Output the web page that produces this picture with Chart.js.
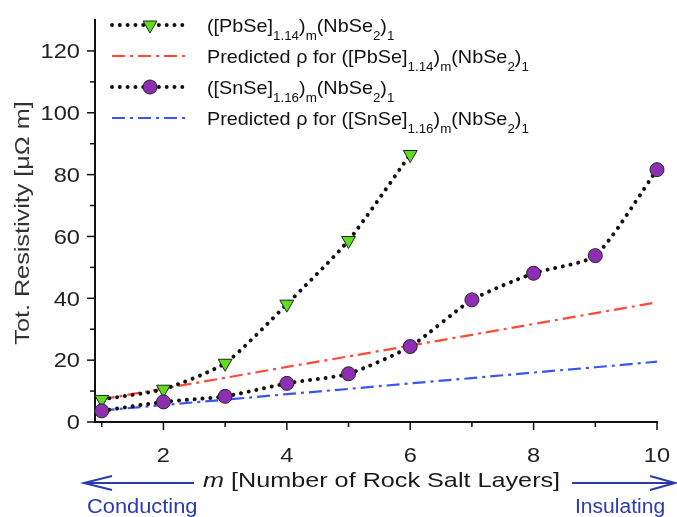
<!DOCTYPE html>
<html>
<head>
<meta charset="utf-8">
<script src="https://cdn.jsdelivr.net/npm/chart.js@4.4.1/dist/chart.umd.min.js"></script>
<style>
  body { margin: 0; background: #fff; }
  #wrap { width: 677px; height: 517px; }
</style>
</head>
<body>
<div id="wrap"><canvas id="chart" width="677" height="517"></canvas></div>
<script>
// data
const mPbSe = [1, 2, 3, 4, 5, 6];
const rhoPbSe = [7.3, 10.6, 19.0, 38.1, 58.7, 86.5];
const mSnSe = [1, 2, 3, 4, 5, 6, 7, 8, 9, 10];
const rhoSnSe = [3.6, 6.5, 8.3, 12.5, 15.6, 24.4, 39.5, 48.1, 53.8, 81.6];
const mPred = [1, 2, 3, 4, 5, 6, 7, 8, 9, 10];
const predPbSe = [7.3, 10.8, 14.3, 17.8, 21.2, 24.7, 28.2, 31.7, 35.2, 38.7];
const predSnSe = [3.7, 5.5, 7.2, 9.0, 10.7, 12.5, 14.2, 16.0, 17.7, 19.5];
const xTickLabels = [2, 4, 6, 8, 10];
const yTickLabels = [0, 20, 40, 60, 80, 100, 120];

const legendRows = [
  [{t: '([PbSe]'}, {t: '1.14', s: 1}, {t: ')'}, {t: 'm', s: 1}, {t: '(NbSe'}, {t: '2', s: 1}, {t: ')'}, {t: '1', s: 1}],
  [{t: 'Predicted \u03c1 for ([PbSe]'}, {t: '1.14', s: 1}, {t: ')'}, {t: 'm', s: 1}, {t: '(NbSe'}, {t: '2', s: 1}, {t: ')'}, {t: '1', s: 1}],
  [{t: '([SnSe]'}, {t: '1.16', s: 1}, {t: ')'}, {t: 'm', s: 1}, {t: '(NbSe'}, {t: '2', s: 1}, {t: ')'}, {t: '1', s: 1}],
  [{t: 'Predicted \u03c1 for ([SnSe]'}, {t: '1.16', s: 1}, {t: ')'}, {t: 'm', s: 1}, {t: '(NbSe'}, {t: '2', s: 1}, {t: ')'}, {t: '1', s: 1}]
];

const FONT = 'Arial, "Liberation Sans", sans-serif';
const GREEN = '#5fdc1c';
const PURPLE = '#8e2fb3';
const RED = '#ff4a3a';
const BLUE = '#3a55f0';
const ARROW_BLUE = '#2b3aad';

const pts = (xs, ys) => xs.map((x, i) => ({x: x, y: ys[i]}));

const dotted = [0.01, 7.8];
const dashDot = [13, 5, 3, 5];

// text in the original is a bit wider than Arial, so stretch it
function wideText(ctx, text, x, y, align, sx) {
  ctx.save();
  ctx.translate(x, y);
  ctx.scale(sx, 1);
  ctx.textAlign = align;
  ctx.fillText(text, 0, 0);
  ctx.restore();
}

// ticks, labels, legend, titles and the conducting/insulating arrows
const extras = {
  id: 'extras',
  afterDraw(chart) {
    const ctx = chart.ctx;
    const xs = chart.scales.x, ys = chart.scales.y;
    ctx.save();
    ctx.strokeStyle = '#111';
    ctx.lineWidth = 1.5;
    xs.ticks.forEach(t => {
      const px = xs.getPixelForValue(t.value);
      const len = t.value % 2 === 0 ? 8 : 5;
      ctx.beginPath();
      ctx.moveTo(px, ys.bottom);
      ctx.lineTo(px, ys.bottom + len);
      ctx.stroke();
    });
    ys.ticks.forEach(t => {
      if (t.value > 120) return;
      const py = ys.getPixelForValue(t.value);
      const len = t.value % 20 === 0 ? 8 : 5;
      ctx.beginPath();
      ctx.moveTo(xs.left, py);
      ctx.lineTo(xs.left - len, py);
      ctx.stroke();
    });

    // tick labels
    ctx.fillStyle = '#222';
    ctx.font = '20px ' + FONT;
    ctx.textBaseline = 'alphabetic';
    xTickLabels.forEach(v => {
      wideText(ctx, String(v), xs.getPixelForValue(v), 461.5, 'center', 1.18);
    });
    yTickLabels.forEach(v => {
      wideText(ctx, String(v), 80, ys.getPixelForValue(v) + 7.2, 'right', 1.18);
    });

    // y title
    ctx.save();
    ctx.translate(23, (ys.top + ys.bottom) / 2 + 2);
    ctx.rotate(-Math.PI / 2);
    ctx.fillStyle = '#333';
    ctx.font = '21px ' + FONT;
    ctx.textBaseline = 'middle';
    wideText(ctx, 'Tot. Resistivity [\u03bc\u03a9 m]', 0, 0, 'center', 1.2);
    ctx.restore();

    // legend
    const rowY = [25, 56, 87, 118];
    const x0 = 112, x1 = 187, tx = 207;
    chart.data.datasets.forEach((ds, i) => {
      const y = rowY[i];
      ctx.save();
      ctx.strokeStyle = ds.borderColor;
      ctx.lineWidth = ds.borderWidth;
      ctx.lineCap = ds.borderCapStyle || 'butt';
      ctx.setLineDash(ds.borderDash || []);
      ctx.beginPath();
      ctx.moveTo(x0, y);
      ctx.lineTo(x1, y);
      ctx.stroke();
      ctx.restore();
      if (ds.pointRadius > 0) {
        ctx.fillStyle = ds.pointBackgroundColor;
        ctx.strokeStyle = ds.pointBorderColor;
        ctx.lineWidth = ds.pointBorderWidth;
        ctx.beginPath();
        if (ds.pointStyle === 'circle') {
          ctx.arc(150, y, ds.pointRadius, 0, Math.PI * 2);
        } else {
          const r = ds.pointRadius;
          ctx.moveTo(150, y + r);
          ctx.lineTo(150 - r * Math.sin(Math.PI / 3), y - r / 2);
          ctx.lineTo(150 + r * Math.sin(Math.PI / 3), y - r / 2);
          ctx.closePath();
        }
        ctx.fill();
        ctx.stroke();
      }
      let x = tx;
      ctx.fillStyle = '#111';
      ctx.textBaseline = 'alphabetic';
      legendRows[i].forEach(p => {
        ctx.font = (p.s ? '12.5px ' : '18.5px ') + FONT;
        wideText(ctx, p.t, x, y + 6.5 + (p.s ? 8.5 : 0), 'left', 1.07);
        x += ctx.measureText(p.t).width * 1.07;
      });
    });

    // x axis title
    ctx.fillStyle = '#1a1a1a';
    ctx.font = 'italic 21px ' + FONT;
    wideText(ctx, 'm', 203, 487, 'left', 1.2);
    const w = ctx.measureText('m').width * 1.2;
    ctx.font = '21px ' + FONT;
    wideText(ctx, ' [Number of Rock Salt Layers]', 203 + w, 487, 'left', 1.2);

    // arrows
    ctx.strokeStyle = ARROW_BLUE;
    ctx.lineWidth = 2;
    ctx.beginPath();
    ctx.moveTo(194, 483); ctx.lineTo(84, 483);
    ctx.moveTo(112, 476); ctx.lineTo(84, 483); ctx.lineTo(112, 490);
    ctx.moveTo(572, 483); ctx.lineTo(675, 483);
    ctx.moveTo(650, 476); ctx.lineTo(675, 483); ctx.lineTo(650, 490);
    ctx.stroke();
    ctx.fillStyle = ARROW_BLUE;
    ctx.font = '19.5px ' + FONT;
    wideText(ctx, 'Conducting', 87, 513, 'left', 1.12);
    wideText(ctx, 'Insulating', 575, 513, 'left', 1.08);
    ctx.restore();
  }
};

new Chart(document.getElementById('chart'), {
  type: 'line',
  data: {
    datasets: [
      {
        label: 'PbSe',
        data: pts(mPbSe, rhoPbSe),
        borderColor: '#111',
        borderWidth: 4,
        borderDash: dotted,
        borderCapStyle: 'round',
        tension: 0.2,
        pointStyle: 'triangle',
        pointRotation: 180,
        pointRadius: 8,
        pointBackgroundColor: GREEN,
        pointBorderColor: '#222',
        pointBorderWidth: 1,
        clip: false,
        order: 1
      },
      {
        label: 'Pred PbSe',
        data: pts(mPred, predPbSe),
        borderColor: RED,
        borderWidth: 2.2,
        borderDash: dashDot,
        pointRadius: 0,
        order: 3
      },
      {
        label: 'SnSe',
        data: pts(mSnSe, rhoSnSe),
        borderColor: '#111',
        borderWidth: 4,
        borderDash: dotted,
        borderCapStyle: 'round',
        tension: 0.2,
        pointStyle: 'circle',
        pointRadius: 7,
        pointBackgroundColor: PURPLE,
        pointBorderColor: '#222',
        pointBorderWidth: 1,
        clip: false,
        order: 0
      },
      {
        label: 'Pred SnSe',
        data: pts(mPred, predSnSe),
        borderColor: BLUE,
        borderWidth: 2.2,
        borderDash: dashDot,
        pointRadius: 0,
        order: 4
      }
    ]
  },
  options: {
    responsive: false,
    animation: false,
    devicePixelRatio: 1,
    layout: { padding: { top: 20, right: 20, left: 0, bottom: 0 } },
    plugins: { legend: { display: false }, tooltip: { enabled: false } },
    scales: {
      x: {
        type: 'linear',
        min: 0.891,
        max: 10,
        afterFit: s => { s.height = 95; },
        grid: { display: false, drawTicks: false },
        border: { display: true, color: '#111', width: 2 },
        ticks: {
          stepSize: 1,
          includeBounds: false,
          autoSkip: false,
          maxRotation: 0,
          callback: () => ''
        }
      },
      y: {
        min: 0,
        max: 130,
        afterFit: s => { s.width = 95; },
        grid: { display: false, drawTicks: false },
        border: { display: true, color: '#111', width: 2 },
        ticks: {
          stepSize: 10,
          autoSkip: false,
          callback: () => ''
        }
      }
    }
  },
  plugins: [extras]
});
</script>
</body>
</html>
